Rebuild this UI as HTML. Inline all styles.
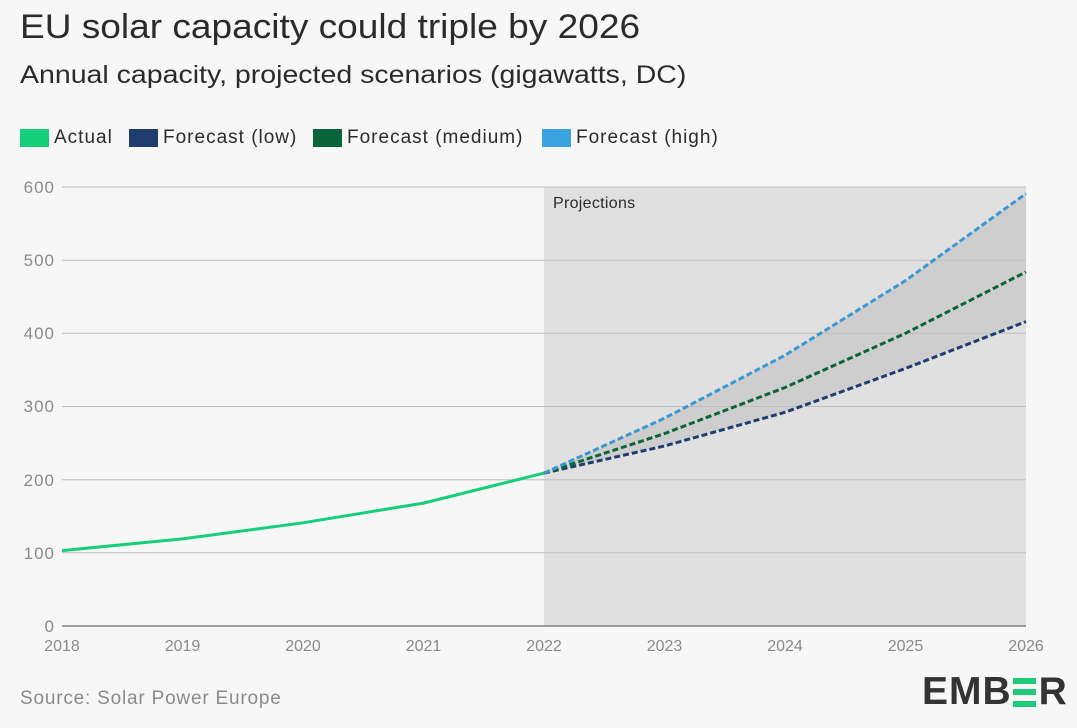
<!DOCTYPE html>
<html><head><style>
body{margin:0;width:1077px;height:728px;background:#f7f7f7;font-family:"Liberation Sans",sans-serif;overflow:hidden;position:relative}
.t{position:absolute;left:20px;top:8px;font-size:34px;color:#2b2b2b;transform:scaleX(1.09);transform-origin:0 0;white-space:nowrap}
.s{position:absolute;left:20px;top:61px;font-size:25px;color:#2b2b2b;transform:scaleX(1.14);transform-origin:0 0;white-space:nowrap}
.lg{position:absolute;top:127px;font-size:19px;letter-spacing:1px;color:#2b2b2b;display:flex;align-items:center;white-space:nowrap}
.lg i{display:inline-block;width:29px;height:18px;margin-right:5px}
.src{position:absolute;left:20px;top:688px;font-size:19px;letter-spacing:0.8px;color:#8a8a8a}
.logo{position:absolute;left:922px;top:670px;font-size:39px;font-weight:bold;color:#333;letter-spacing:1px;display:flex;align-items:center}
.bars{display:inline-flex;flex-direction:column;justify-content:space-between;height:29px;width:23px;margin:0 3px 0 1px}
.bars b{display:block;height:6px;background:#1fcb79}
</style></head><body>
<div class="t">EU solar capacity could triple by 2026</div>
<div class="s">Annual capacity, projected scenarios (gigawatts, DC)</div>
<div class="lg" style="left:20px"><i style="background:#16cf7a"></i>Actual</div>
<div class="lg" style="left:129px"><i style="background:#1e3d6e"></i>Forecast (low)</div>
<div class="lg" style="left:313px"><i style="background:#0a6439"></i>Forecast (medium)</div>
<div class="lg" style="left:542px"><i style="background:#3aa3e0"></i>Forecast (high)</div>
<svg width="1077" height="728" style="position:absolute;left:0;top:0" font-family="Liberation Sans, sans-serif">
<rect x="544" y="187" width="482" height="439" fill="#e0e0e0"/>
<polygon points="544,473.1 664.5,418.2 785,355.3 905.5,280.6 1026,193.6 1026,321.6 905.5,368.4 785,412.3 664.5,446" fill="#cecece"/>
<g stroke="#bdbdbd" stroke-width="1">
<line x1="62" x2="1026" y1="187" y2="187"/><line x1="62" x2="1026" y1="260.2" y2="260.2"/>
<line x1="62" x2="1026" y1="333.3" y2="333.3"/><line x1="62" x2="1026" y1="406.5" y2="406.5"/>
<line x1="62" x2="1026" y1="479.7" y2="479.7"/><line x1="62" x2="1026" y1="552.8" y2="552.8"/>
</g>
<line x1="62" x2="1026" y1="626" y2="626" stroke="#444" stroke-width="1"/>
<g font-size="17" fill="#8a8a8a" text-anchor="end" letter-spacing="1">
<text x="55" y="193">600</text><text x="55" y="266">500</text><text x="55" y="339">400</text>
<text x="55" y="412">300</text><text x="55" y="486">200</text><text x="55" y="559">100</text><text x="55" y="632">0</text>
</g>
<g font-size="16" fill="#8a8a8a" text-anchor="middle">
<text x="62" y="651">2018</text><text x="182.5" y="651">2019</text><text x="303" y="651">2020</text><text x="423.5" y="651">2021</text><text x="544" y="651">2022</text><text x="664.5" y="651">2023</text><text x="785" y="651">2024</text><text x="905.5" y="651">2025</text><text x="1026" y="651">2026</text>
</g>
<text x="553" y="208" font-size="16" fill="#2b2b2b" letter-spacing="0.3">Projections</text>
<polyline points="62,550.6 182.5,538.9 303,522.8 423.5,503.1 544,473.1" fill="none" stroke="#16cf7a" stroke-width="3"/>
<g fill="none" stroke-width="3" stroke-dasharray="6,3">
<polyline points="544,473.1 664.5,446 785,412.3 905.5,368.4 1026,321.6" stroke="#1e3d6e"/>
<polyline points="544,473.1 664.5,433.6 785,387.5 905.5,333.3 1026,271.9" stroke="#0a6439"/>
<polyline points="544,473.1 664.5,418.2 785,355.3 905.5,280.6 1026,193.6" stroke="#3a98d0"/>
</g>
</svg>
<div class="src">Source: Solar Power Europe</div>
<div class="logo">EMB<span class="bars"><b></b><b></b><b></b></span>R</div>
</body></html>
